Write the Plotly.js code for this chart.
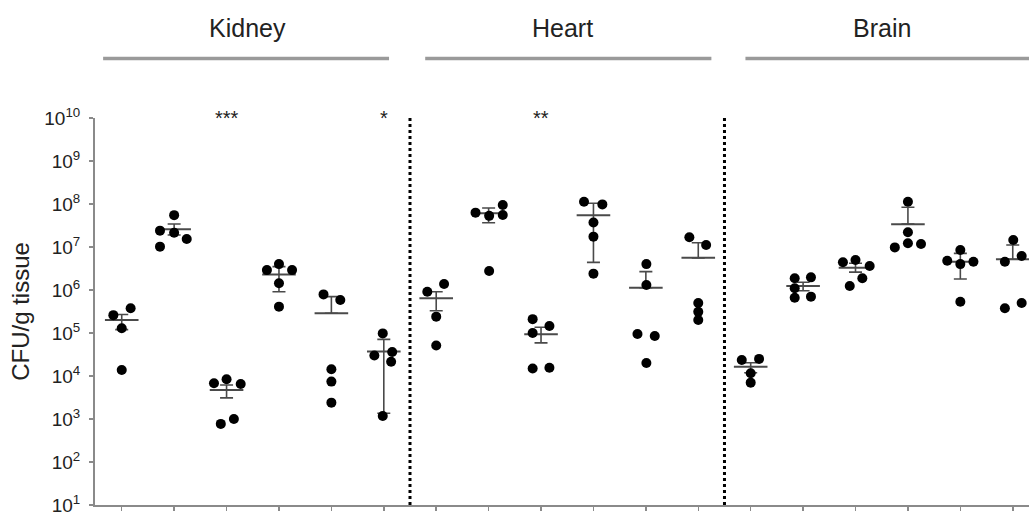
<!DOCTYPE html>
<html>
<head>
<meta charset="utf-8">
<script src="https://cdn.plot.ly/plotly-3.0.1.min.js"></script>
<style>
  html, body { margin: 0; padding: 0; background: #ffffff; }
  #chart { width: 1029px; height: 520px; }
</style>
</head>
<body>
<div id="chart"></div>
<script>
// ---- data (CFU per g tissue, log scale) ----
const organs = ['Kidney', 'Heart', 'Brain'];
const groupsPerOrgan = 6;

// individual animals, one list per group (6 groups per organ)
const kidneyCFU = [
  [2.6e5, 3.75e5, 1.29e5, 1.38e4],
  [5.5e7, 2.4e7, 2.15e7, 1.53e7, 1.02e7],
  [6.8e3, 8.4e3, 6.5e3, 770, 1.0e3],
  [2.9e6, 4.0e6, 2.9e6, 1.43e6, 4.1e5],
  [7.9e5, 5.85e5, 1.43e4, 7.4e3, 2.4e3],
  [9.8e4, 3.0e4, 3.6e4, 2.15e4, 1.17e3]
];
const heartCFU = [
  [9.1e5, 1.38e6, 2.4e5, 5.1e4],
  [6.3e7, 5.3e7, 9.5e7, 5.55e7, 2.77e6],
  [2.1e5, 1.0e5, 1.46e5, 1.5e4, 1.56e4],
  [1.13e8, 9.8e7, 3.7e7, 1.74e7, 2.4e6],
  [4.0e6, 1.31e6, 9.5e4, 8.5e4, 2.0e4],
  [1.68e7, 1.11e7, 5.0e5, 3.1e5, 2.0e5]
];
const brainCFU = [
  [2.36e4, 2.5e4, 1.16e4, 7.0e3],
  [1.87e6, 1.97e6, 1.1e6, 6.6e5, 7.0e5],
  [4.4e6, 5.0e6, 3.6e6, 1.87e6, 1.24e6],
  [1.13e8, 2.2e7, 9.8e6, 1.22e7, 1.17e7],
  [8.5e6, 4.8e6, 4.0e6, 4.55e6, 5.35e5],
  [1.46e7, 4.55e6, 6.2e6, 3.75e5, 5.0e5]
];

// horizontal scatter of the dots, as a fraction of the group spacing
const kidneyJitter = [
  [-0.16, 0.17, 0, 0],
  [0, -0.27, 0, 0.24, -0.27],
  [-0.24, 0, 0.27, -0.11, 0.14],
  [-0.23, 0, 0.25, 0, 0],
  [-0.15, 0.17, 0, 0, 0],
  [-0.02, -0.18, 0.16, 0.14, -0.02]
];
const heartJitter = [
  [-0.17, 0.15, 0, 0],
  [-0.25, 0.01, 0.27, 0.27, 0.01],
  [-0.16, -0.16, 0.16, -0.16, 0.16],
  [-0.18, 0.17, 0, 0, 0],
  [0.01, 0.01, -0.16, 0.17, 0.01],
  [-0.17, 0.15, 0, 0, 0]
];
const brainJitter = [
  [-0.17, 0.16, 0, 0],
  [-0.16, 0.15, -0.16, -0.16, 0.15],
  [-0.24, 0, 0.27, 0.13, -0.11],
  [0, 0, -0.25, 0, 0.25],
  [0, -0.25, 0, 0.25, 0],
  [0.01, -0.15, 0.17, -0.15, 0.17]
];

// group mean and the ends of the error bars (null = no lower bar drawn)
const meanCFU = [2.0e5, 2.58e7, 4.7e3, 2.3e6, 2.87e5, 3.7e4,
                 6.4e5, 6.1e7, 9.3e4, 5.5e7, 1.13e6, 5.6e6,
                 1.64e4, 1.24e6, 3.3e6, 3.4e7, 4.55e6, 5.2e6];
const upperCFU = [2.7e5, 3.43e7, 6.2e3, 3.5e6, 7.0e5, 7.1e4,
                  9.1e5, 8.1e7, 1.36e5, 1.04e8, 2.67e6, 1.26e7,
                  2.04e4, 1.51e6, 4.2e6, 8.4e7, 7.1e6, 1.11e7];
const lowerCFU = [1.2e5, 1.9e7, 3.1e3, 9.1e5, null, 1.36e3,
                  3.3e5, 3.67e7, 5.9e4, 4.4e6, null, null,
                  1.19e4, 9.6e5, 2.6e6, null, 1.8e6, null];

// significance marks above groups
const sigGroup = [2, 5, 8];
const sigText = ['***', '*', '**'];

const yTickVals = [1e1, 1e2, 1e3, 1e4, 1e5, 1e6, 1e7, 1e8, 1e9, 1e10];
const yTickText = yTickVals.map(v => '10<sup>' + Math.round(Math.log10(v)) + '</sup>');

// ---- build traces ----
const allCFU = kidneyCFU.concat(heartCFU, brainCFU);
const allJitter = kidneyJitter.concat(heartJitter, brainJitter);
const ptX = [], ptY = [];
allCFU.forEach((vals, g) => {
  vals.forEach((v, k) => { ptX.push(g + allJitter[g][k]); ptY.push(v); });
});
const groupIdx = meanCFU.map((_, i) => i);
const errPlus = meanCFU.map((m, i) => upperCFU[i] - m);
const errMinus = meanCFU.map((m, i) => lowerCFU[i] === null ? 0 : m - lowerCFU[i]);

const FONT = 'Liberation Sans, Arial, sans-serif';
const AXC = '#8a8a8a';

const meanTrace = {
  type: 'scatter', mode: 'markers', x: groupIdx, y: meanCFU,
  marker: { symbol: 'line-ew', size: 24, color: '#4a4a4a', line: { width: 2, color: '#4a4a4a' } },
  error_y: { type: 'data', symmetric: false, array: errPlus, arrayminus: errMinus,
             color: '#4a4a4a', thickness: 1.6, width: 6.5 },
  hoverinfo: 'skip', showlegend: false
};
const pointTrace = {
  type: 'scatter', mode: 'markers', x: ptX, y: ptY,
  marker: { symbol: 'circle', size: 10, color: '#000000' },
  showlegend: false
};

const shapes = [5.5, 11.5].map(x => ({
  type: 'line', xref: 'x', yref: 'paper', x0: x, x1: x, y0: 0, y1: 1,
  line: { color: '#000000', width: 3, dash: 'dot' }
}));
const headerSpans = [[-0.355, 5.1], [5.79, 11.25], [11.9, 17.6]];
headerSpans.forEach(s => shapes.push({
  type: 'line', xref: 'x', yref: 'paper', x0: s[0], x1: s[1], y0: 1.154, y1: 1.154,
  line: { color: '#9a9a9a', width: 3.5 }
}));

const headerX = [2.4, 8.4, 14.5];
const annotations = organs.map((o, i) => ({
  text: o, xref: 'x', yref: 'paper', x: headerX[i], y: 1.233,
  showarrow: false, xanchor: 'center', yanchor: 'middle',
  font: { family: FONT, size: 25, color: '#222222' }
}));
sigGroup.forEach((g, i) => annotations.push({
  text: sigText[i], xref: 'x', yref: 'paper', x: g, y: 0.999,
  showarrow: false, xanchor: 'center', yanchor: 'middle',
  font: { family: FONT, size: 20, color: '#222222' }
}));

const layout = {
  width: 1029, height: 520,
  margin: { l: 95, r: 0, t: 118, b: 15, pad: 0 },
  paper_bgcolor: '#ffffff', plot_bgcolor: '#ffffff',
  font: { family: FONT, color: '#222222' },
  showlegend: false,
  xaxis: {
    range: [-0.51, 17.31], tickmode: 'array', tickvals: groupIdx,
    showticklabels: false, ticks: 'outside', ticklen: 4, tickwidth: 1.5, tickcolor: AXC,
    showline: true, linecolor: AXC, linewidth: 2, showgrid: false, zeroline: false
  },
  yaxis: {
    type: 'log', range: [1, 10], tickmode: 'array', tickvals: yTickVals, ticktext: yTickText,
    ticks: 'outside', ticklen: 4, tickwidth: 1.5, tickcolor: AXC, ticklabelstandoff: 5,
    showline: true, linecolor: AXC, linewidth: 2, showgrid: false, zeroline: false,
    tickfont: { family: FONT, size: 19, color: '#222222' },
    title: { text: 'CFU/g tissue', font: { family: FONT, size: 24, color: '#222222' }, standoff: 8 },
    automargin: false
  },
  shapes: shapes,
  annotations: annotations
};

Plotly.newPlot('chart', [meanTrace, pointTrace], layout, { staticPlot: true, displayModeBar: false });
</script>
</body>
</html>
